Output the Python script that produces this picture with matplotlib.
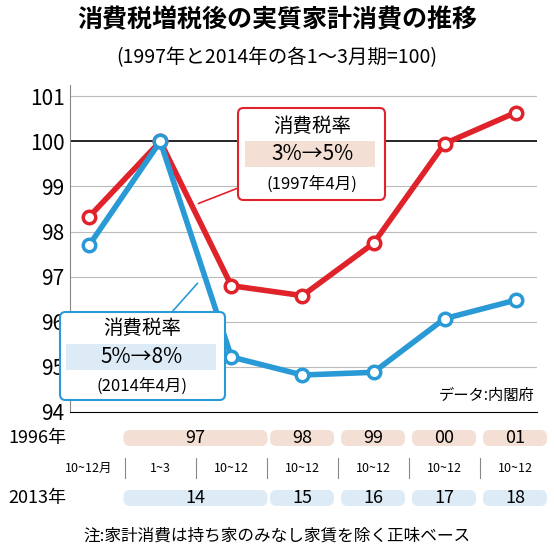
import matplotlib.pyplot as plt
from matplotlib.patches import FancyBboxPatch, Rectangle

plt.rcParams['font.family'] = ['Noto Sans CJK JP', 'DejaVu Sans']

# data
periods = ["10~12月", "1~3", "10~12", "10~12", "10~12", "10~12", "10~12"]
red_vals = [98.33, 100.0, 96.8, 96.58, 97.74, 99.95, 100.64]
blue_vals = [97.7, 100.0, 95.22, 94.82, 94.88, 96.07, 96.48]
years_1997 = ["97", "98", "99", "00", "01"]
years_2014 = ["14", "15", "16", "17", "18"]
year_pos = [1.5, 3, 4, 5, 6]

RED = "#e0222a"
BLUE = "#2a9ad6"
PINK = "#f3dfd3"
LBLUE = "#dcebf6"

W = 554
fig = plt.figure(figsize=(5.54, 5.54), dpi=100)

def fx(x):
    return x / W

def fy(y):
    return 1 - y / W

ax = fig.add_axes([fx(70), fy(412), fx(537) - fx(70), fy(85) - fy(412)])
xs = list(range(len(red_vals)))
ax.set_xlim(-0.27, 6.3)
ax.set_ylim(94, 101.25)
for v in range(95, 102):
    ax.axhline(v, color="black" if v == 100 else "#bbbbbb", lw=1.2 if v == 100 else 0.8, zorder=0)
ax.plot(xs, red_vals, color=RED, lw=4, marker="o", ms=9, mfc="white", mec=RED, mew=2.5, zorder=3)
ax.plot(xs, blue_vals, color=BLUE, lw=4, marker="o", ms=9, mfc="white", mec=BLUE, mew=2.5, zorder=4)
ax.set_yticks(range(94, 102))
ax.tick_params(axis="y", labelsize=15, length=0, pad=4)
ax.set_xticks([])
for s in ["top", "right"]:
    ax.spines[s].set_visible(False)
ax.spines["left"].set_color("#888888")

# annotation boxes
ax.annotate("", xy=(1.5, 98.6), xytext=(2.15, 99.0),
            arrowprops=dict(arrowstyle="-", color=RED, lw=1.2))
fig.patches.append(FancyBboxPatch((fx(238), fy(200)), fx(147), fx(92), boxstyle="round,pad=0,rounding_size=0.01",
                                  transform=fig.transFigure, fc="white", ec=RED, lw=1.5, zorder=5))
fig.patches.append(Rectangle((fx(245), fy(167)), fx(130), fx(26), transform=fig.transFigure, fc=PINK, ec="none", zorder=6))
fig.text(fx(312), fy(127), "消費税率", fontsize=14, ha="center", va="center", zorder=7)
fig.text(fx(312), fy(154), "3%→5%", fontsize=15, ha="center", va="center", zorder=7)
fig.text(fx(312), fy(184), "(1997年4月)", fontsize=12, ha="center", va="center", zorder=7)

ax.annotate("", xy=(1.55, 96.9), xytext=(0.9, 95.75),
            arrowprops=dict(arrowstyle="-", color=BLUE, lw=1.2))
fig.patches.append(FancyBboxPatch((fx(60), fy(400)), fx(165), fx(88), boxstyle="round,pad=0,rounding_size=0.01",
                                  transform=fig.transFigure, fc="white", ec=BLUE, lw=1.5, zorder=5))
fig.patches.append(Rectangle((fx(66), fy(370)), fx(150), fx(26), transform=fig.transFigure, fc=LBLUE, ec="none", zorder=6))
fig.text(fx(142), fy(329), "消費税率", fontsize=14, ha="center", va="center", zorder=7)
fig.text(fx(142), fy(357), "5%→8%", fontsize=15, ha="center", va="center", zorder=7)
fig.text(fx(142), fy(386), "(2014年4月)", fontsize=12, ha="center", va="center", zorder=7)

fig.text(fx(535), fy(395), "データ:内閣府", fontsize=11, ha="right", va="center")

# titles
fig.text(0.5, fy(20), "消費税増税後の実質家計消費の推移", fontsize=18, fontweight="bold", ha="center", va="center")
fig.text(0.5, fy(58), "(1997年と2014年の各1～3月期=100)", fontsize=14, ha="center", va="center")

# bottom period rows
def xpix(i):
    return 89 + 71 * i

fig.text(fx(8), fy(438), "1996年", fontsize=13, ha="left", va="center")
fig.text(fx(8), fy(498), "2013年", fontsize=13, ha="left", va="center")
for j, (a, b, p) in enumerate(zip(years_1997, years_2014, year_pos)):
    cx = xpix(p)
    half = 72 if j == 0 else 32
    fig.patches.append(FancyBboxPatch((fx(cx - half), fy(446)), fx(2 * half), fx(16),
                                      boxstyle="round,pad=0,rounding_size=0.012", transform=fig.transFigure,
                                      fc=PINK, ec="none"))
    fig.patches.append(FancyBboxPatch((fx(cx - half), fy(506)), fx(2 * half), fx(16),
                                      boxstyle="round,pad=0,rounding_size=0.012", transform=fig.transFigure,
                                      fc=LBLUE, ec="none"))
    fig.text(fx(cx), fy(438), a, fontsize=13, ha="center", va="center")
    fig.text(fx(cx), fy(498), b, fontsize=13, ha="center", va="center")
for i, lab in enumerate(periods):
    fig.text(fx(xpix(i)), fy(468), lab, fontsize=9, ha="center", va="center")
    if i > 0:
        fig.lines.append(plt.Line2D([fx(xpix(i) - 35.5)] * 2, [fy(458), fy(478)],
                                    transform=fig.transFigure, color="#888888", lw=0.8))

fig.text(0.5, fy(536), "注:家計消費は持ち家のみなし家賃を除く正味ベース", fontsize=12, ha="center", va="center")

fig.savefig("out.png", dpi=100)
